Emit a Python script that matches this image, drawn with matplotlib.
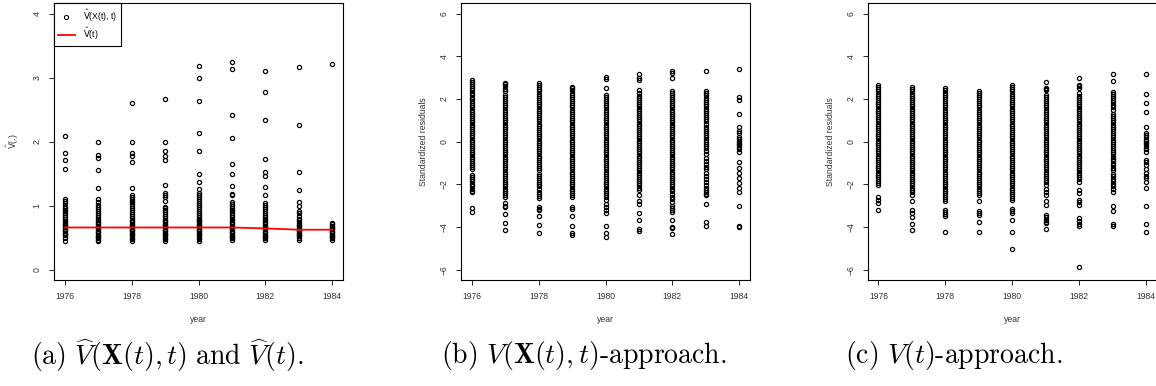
import matplotlib
matplotlib.use("Agg")
import matplotlib.pyplot as plt
from matplotlib.lines import Line2D
from matplotlib.font_manager import FontProperties

# ---------------- data ----------------
years = [1976, 1977, 1978, 1979, 1980, 1981, 1982, 1983, 1984]
year_ticks = [1976, 1978, 1980, 1982, 1984]

# estimated variance per observation, V^(X(t), t)
vhat_x = {
    1976: [2.09, 1.83, 1.71, 1.57, 1.10, 1.07, 1.04, 1.00, 0.97, 0.94, 0.91, 0.88, 0.85, 0.82, 0.79, 0.76,
           0.74, 0.72, 0.70, 0.68, 0.66, 0.64, 0.62, 0.60, 0.58, 0.56, 0.54, 0.50, 0.45],
    1977: [1.99, 1.79, 1.74, 1.55, 1.27, 1.11, 1.05, 1.01, 0.98, 0.95, 0.92, 0.89, 0.86, 0.83, 0.80, 0.77,
           0.75, 0.73, 0.71, 0.69, 0.67, 0.65, 0.63, 0.61, 0.59, 0.57, 0.55, 0.53, 0.51, 0.49, 0.47, 0.45],
    1978: [2.60, 2.00, 1.82, 1.77, 1.68, 1.28, 1.16, 1.14, 1.11, 1.08, 1.05, 1.02, 0.99, 0.96, 0.93, 0.90,
           0.87, 0.84, 0.81, 0.78, 0.76, 0.74, 0.72, 0.70, 0.68, 0.66, 0.64, 0.62, 0.60, 0.58, 0.56, 0.54,
           0.52, 0.50, 0.48, 0.45],
    1979: [2.67, 1.99, 1.86, 1.77, 1.71, 1.32, 1.20, 1.17, 1.14, 1.08, 0.98, 0.96, 0.93, 0.90, 0.87, 0.84,
           0.81, 0.78, 0.76, 0.74, 0.72, 0.70, 0.68, 0.66, 0.64, 0.62, 0.60, 0.58, 0.56, 0.54, 0.52, 0.50,
           0.48, 0.45],
    1980: [3.18, 3.00, 2.64, 2.14, 1.85, 1.50, 1.37, 1.26, 1.20, 1.17, 1.14, 1.10, 1.07, 1.04, 1.01, 0.98,
           0.95, 0.92, 0.89, 0.86, 0.83, 0.80, 0.78, 0.76, 0.74, 0.72, 0.70, 0.68, 0.66, 0.64, 0.62, 0.60,
           0.58, 0.56, 0.54, 0.52, 0.50, 0.48, 0.45],
    1981: [3.25, 3.13, 2.42, 2.06, 1.65, 1.50, 1.30, 1.18, 1.16, 1.06, 1.03, 1.00, 0.97, 0.94, 0.91, 0.88,
           0.85, 0.82, 0.79, 0.77, 0.75, 0.73, 0.71, 0.69, 0.67, 0.65, 0.63, 0.61, 0.59, 0.57, 0.55, 0.53,
           0.51, 0.49, 0.47],
    1982: [3.10, 2.77, 2.34, 1.73, 1.52, 1.46, 1.29, 1.16, 1.04, 1.01, 0.98, 0.95, 0.92, 0.89, 0.86, 0.83,
           0.80, 0.77, 0.75, 0.73, 0.71, 0.69, 0.67, 0.65, 0.63, 0.61, 0.59, 0.57, 0.55, 0.53, 0.51, 0.49,
           0.47],
    1983: [3.17, 2.26, 1.53, 1.25, 1.06, 0.99, 0.92, 0.88, 0.84, 0.80, 0.77, 0.74, 0.72, 0.70, 0.68, 0.66,
           0.64, 0.62, 0.60, 0.58, 0.56, 0.54, 0.52, 0.50, 0.47],
    1984: [3.22, 0.73, 0.71, 0.69, 0.67, 0.65, 0.63, 0.61, 0.59, 0.57, 0.55, 0.53, 0.51, 0.49, 0.47],
}

# estimated variance per year, V^(t)
vhat_t = [0.66, 0.66, 0.66, 0.66, 0.66, 0.66, 0.645, 0.625, 0.625]

# standardized residuals, V(X(t), t)-approach
resid_vx = {
    1976: [2.88, 2.8, 2.7, 2.6, 2.5, 2.4, 2.3, 2.2, 2.05, 2.0, 1.9, 1.8, 1.7, 1.6, 1.5, 1.4, 1.3, 1.2, 1.1,
           1.0, 0.9, 0.8, 0.7, 0.6, 0.5, 0.4, 0.3, 0.2, 0.1, 0.0, -0.1, -0.2, -0.3, -0.4, -0.5, -0.6, -0.7,
           -0.8, -0.9, -1.0, -1.1, -1.2, -1.3, -1.55, -1.65, -1.75, -1.85, -2.0, -2.1, -2.2, -2.3, -2.38,
           -3.12, -3.3],
    1977: [2.76, 2.7, 2.6, 2.45, 2.35, 2.2, 2.1, 2.0, 1.9, 1.8, 1.7, 1.6, 1.5, 1.4, 1.3, 1.2, 1.1, 1.0, 0.9,
           0.8, 0.7, 0.6, 0.5, 0.4, 0.3, 0.2, 0.1, 0.0, -0.1, -0.2, -0.3, -0.4, -0.5, -0.6, -0.7, -0.8, -0.9,
           -1.0, -1.1, -1.2, -1.3, -1.4, -1.5, -1.6, -1.7, -1.8, -1.9, -2.0, -2.1, -2.2, -2.3, -2.4, -2.5,
           -2.57, -2.88, -3.0, -3.07, -3.4, -3.82, -4.13],
    1978: [2.73, 2.65, 2.55, 2.45, 2.35, 2.25, 2.15, 2.05, 1.95, 1.85, 1.75, 1.65, 1.55, 1.45, 1.35, 1.25,
           1.15, 1.05, 0.95, 0.85, 0.75, 0.65, 0.55, 0.45, 0.35, 0.25, 0.15, 0.05, -0.05, -0.15, -0.25,
           -0.35, -0.45, -0.55, -0.65, -0.75, -0.85, -0.95, -1.05, -1.15, -1.25, -1.32, -1.5, -1.6, -1.7,
           -1.8, -1.9, -2.0, -2.1, -2.2, -2.35, -2.45, -2.55, -2.65, -3.07, -3.15, -3.22, -3.5, -3.9, -4.28],
    1979: [2.57, 2.5, 2.4, 2.3, 2.2, 2.1, 2.0, 1.9, 1.8, 1.7, 1.6, 1.5, 1.4, 1.3, 1.2, 1.1, 1.0, 0.9, 0.8,
           0.7, 0.6, 0.5, 0.4, 0.3, 0.2, 0.1, 0.0, -0.1, -0.2, -0.3, -0.4, -0.5, -0.6, -0.7, -0.8, -0.9,
           -1.0, -1.1, -1.2, -1.3, -1.4, -1.5, -1.6, -1.7, -1.8, -1.9, -2.0, -2.1, -2.2, -2.3, -2.4, -2.5,
           -2.57, -3.07, -3.16, -3.5, -3.97, -4.28, -4.36],
    1980: [3.04, 2.93, 2.5, 2.18, 2.1, 2.0, 1.9, 1.8, 1.7, 1.6, 1.5, 1.4, 1.3, 1.2, 1.1, 1.0, 0.9, 0.8, 0.7,
           0.6, 0.5, 0.4, 0.3, 0.2, 0.1, 0.0, -0.1, -0.2, -0.3, -0.4, -0.5, -0.6, -0.7, -0.8, -0.9, -1.0,
           -1.1, -1.2, -1.3, -1.4, -1.5, -1.6, -1.7, -1.8, -1.9, -2.0, -2.1, -2.2, -2.3, -2.4, -2.5, -2.6,
           -2.73, -2.9, -3.05, -3.2, -3.35, -3.97, -4.28, -4.47],
    1981: [3.16, 3.0, 2.88, 2.41, 2.26, 2.15, 2.05, 1.95, 1.85, 1.75, 1.65, 1.55, 1.45, 1.35, 1.25, 1.15,
           1.05, 0.95, 0.85, 0.75, 0.65, 0.55, 0.45, 0.35, 0.25, 0.15, 0.05, -0.05, -0.15, -0.25, -0.35,
           -0.45, -0.55, -0.65, -0.75, -0.85, -0.95, -1.05, -1.15, -1.25, -1.35, -1.45, -1.55, -1.65, -1.75,
           -1.85, -1.95, -2.05, -2.15, -2.26, -2.52, -2.8, -2.9, -3.35, -3.66, -4.1, -4.2],
    1982: [3.32, 3.2, 2.96, 2.38, 2.3, 2.2, 2.1, 2.0, 1.9, 1.8, 1.7, 1.6, 1.5, 1.4, 1.3, 1.2, 1.1, 1.0, 0.9,
           0.8, 0.7, 0.6, 0.5, 0.4, 0.3, 0.2, 0.1, 0.0, -0.1, -0.2, -0.3, -0.4, -0.5, -0.6, -0.7, -0.8, -0.9,
           -1.0, -1.1, -1.2, -1.3, -1.4, -1.5, -1.6, -1.7, -1.8, -1.9, -2.0, -2.1, -2.2, -2.3, -2.45, -2.6,
           -2.7, -2.85, -3.0, -3.1, -3.2, -3.3, -3.66, -4.0, -4.05, -4.33],
    1983: [3.32, 2.38, 2.3, 2.18, 2.05, 1.95, 1.85, 1.75, 1.65, 1.55, 1.45, 1.35, 1.25, 1.15, 1.05, 0.95,
           0.85, 0.7, 0.6, 0.5, 0.4, 0.3, 0.2, 0.1, 0.0, -0.1, -0.2, -0.3, -0.45, -0.6, -0.75, -0.9, -1.05,
           -1.2, -1.3, -1.45, -1.6, -1.75, -1.9, -2.05, -2.15, -2.25, -2.34, -2.45, -2.5, -2.9, -3.78, -3.94],
    1984: [3.4, 2.1, 1.95, 1.29, 0.7, 0.5, 0.39, 0.23, 0.12, 0.05, -0.02, -0.1, -0.18, -0.27, -0.35, -0.47,
           -0.93, -1.25, -1.48, -1.71, -1.95, -2.18, -2.38, -3.0, -3.97, -4.02],
}

# standardized residuals, V(t)-approach
resid_vt = {
    1976: [2.65, 2.55, 2.45, 2.35, 2.25, 2.15, 2.05, 1.95, 1.85, 1.75, 1.65, 1.55, 1.45, 1.35, 1.25, 1.15,
           1.05, 0.95, 0.85, 0.75, 0.65, 0.55, 0.45, 0.35, 0.25, 0.15, 0.05, -0.05, -0.15, -0.25, -0.35,
           -0.45, -0.55, -0.65, -0.75, -0.85, -0.95, -1.05, -1.15, -1.25, -1.35, -1.45, -1.55, -1.65, -1.75,
           -1.85, -1.95, -2.02, -2.57, -2.73, -2.88, -3.22],
    1977: [2.54, 2.45, 2.35, 2.25, 2.15, 2.05, 1.95, 1.85, 1.75, 1.65, 1.55, 1.45, 1.35, 1.25, 1.15, 1.05,
           0.95, 0.85, 0.75, 0.65, 0.55, 0.45, 0.35, 0.25, 0.15, 0.05, -0.05, -0.15, -0.25, -0.35, -0.45,
           -0.55, -0.65, -0.75, -0.85, -0.95, -1.05, -1.15, -1.25, -1.35, -1.45, -1.55, -1.65, -1.75, -1.85,
           -1.95, -2.05, -2.15, -2.25, -2.35, -2.49, -2.77, -3.22, -3.35, -3.54, -3.85, -4.13],
    1978: [2.52, 2.4, 2.3, 2.2, 2.1, 2.0, 1.9, 1.8, 1.7, 1.6, 1.5, 1.4, 1.3, 1.2, 1.1, 1.0, 0.9, 0.8, 0.7,
           0.6, 0.5, 0.4, 0.3, 0.2, 0.1, 0.0, -0.1, -0.2, -0.3, -0.4, -0.5, -0.6, -0.7, -0.8, -0.9, -1.0,
           -1.1, -1.2, -1.3, -1.4, -1.5, -1.6, -1.7, -1.8, -1.9, -2.0, -2.1, -2.2, -2.3, -2.4, -2.5, -2.6,
           -2.7, -2.8, -3.22, -3.3, -3.38, -3.47, -4.24],
    1979: [2.37, 2.3, 2.2, 2.1, 2.0, 1.9, 1.8, 1.7, 1.6, 1.5, 1.4, 1.3, 1.2, 1.1, 1.0, 0.9, 0.8, 0.7, 0.6,
           0.5, 0.4, 0.3, 0.2, 0.1, 0.0, -0.1, -0.2, -0.3, -0.4, -0.5, -0.6, -0.7, -0.8, -0.9, -1.0, -1.1,
           -1.2, -1.3, -1.4, -1.5, -1.6, -1.7, -1.8, -1.9, -2.0, -2.1, -2.2, -2.3, -2.4, -2.49, -2.8, -3.27,
           -3.35, -3.43, -3.74, -4.25],
    1980: [2.65, 2.55, 2.45, 2.35, 2.25, 2.15, 2.05, 1.95, 1.85, 1.75, 1.65, 1.55, 1.45, 1.35, 1.25, 1.15,
           1.05, 0.95, 0.85, 0.75, 0.65, 0.55, 0.45, 0.35, 0.25, 0.15, 0.05, -0.05, -0.15, -0.25, -0.35,
           -0.45, -0.55, -0.65, -0.75, -0.85, -0.95, -1.05, -1.15, -1.25, -1.35, -1.45, -1.55, -1.65, -1.75,
           -1.85, -1.95, -2.05, -2.15, -2.25, -2.35, -2.45, -2.55, -2.65, -2.73, -3.16, -3.25, -3.35, -3.66,
           -4.24, -5.02],
    1981: [2.8, 2.5, 2.45, 2.41, 2.18, 2.1, 2.0, 1.9, 1.8, 1.7, 1.6, 1.5, 1.4, 1.3, 1.2, 1.1, 1.0, 0.9, 0.8,
           0.7, 0.6, 0.5, 0.4, 0.3, 0.2, 0.1, 0.0, -0.1, -0.2, -0.3, -0.4, -0.5, -0.6, -0.7, -0.8, -0.9,
           -1.0, -1.1, -1.2, -1.3, -1.4, -1.5, -1.6, -1.7, -1.8, -1.9, -2.02, -2.2, -2.34, -2.49, -2.77,
           -2.96, -3.43, -3.55, -3.65, -3.75, -3.82, -4.1],
    1982: [2.99, 2.65, 2.6, 2.5, 2.26, 2.15, 2.05, 1.95, 1.85, 1.75, 1.65, 1.55, 1.45, 1.35, 1.25, 1.15,
           1.05, 0.95, 0.85, 0.75, 0.65, 0.55, 0.45, 0.35, 0.25, 0.15, 0.05, -0.05, -0.15, -0.25, -0.35,
           -0.45, -0.55, -0.65, -0.75, -0.85, -0.95, -1.05, -1.15, -1.25, -1.35, -1.45, -1.55, -1.65, -1.75,
           -1.87, -2.26, -2.41, -2.73, -2.85, -2.96, -3.58, -3.7, -3.85, -3.97, -5.87],
    1983: [3.16, 2.84, 2.34, 2.25, 2.15, 2.05, 1.95, 1.85, 1.71, 1.6, 1.48, 1.3, 1.2, 1.1, 1.0, 0.9, 0.8,
           0.7, 0.6, 0.5, 0.4, 0.3, 0.2, 0.1, 0.0, -0.1, -0.2, -0.3, -0.4, -0.5, -0.6, -0.7, -0.8, -0.86,
           -1.0, -1.1, -1.25, -1.35, -1.5, -1.6, -1.75, -1.85, -2.0, -2.1, -2.2, -2.34, -3.0, -3.27, -3.85,
           -3.94],
    1984: [3.19, 2.23, 1.79, 1.37, 0.7, 0.42, 0.32, 0.23, 0.1, 0.02, -0.05, -0.12, -0.2, -0.28, -0.35,
           -0.47, -0.85, -0.93, -1.09, -1.3, -1.48, -1.6, -1.72, -1.87, -2.15, -3.0, -3.86, -4.24],
}

captions = [
    r"$\mathrm{(a)}\ \widehat{V}(\mathbf{X}(t),t)\ \mathrm{and}\ \widehat{V}(t).$",
    r"$\mathrm{(b)}\ V(\mathbf{X}(t),t)\mathrm{\text{-}approach.}$",
    r"$\mathrm{(c)}\ V(t)\mathrm{\text{-}approach.}$",
]

# ---------------- figure ----------------
W, H = 1156, 386
fig = plt.figure(figsize=(W / 100, H / 100), dpi=100)
plt.rcParams["font.family"] = ["Liberation Sans", "DejaVu Sans"]

TICK_FS = 6.2
MS, MEW = 3.0, 0.9
ax_top, ax_bot = 3.3, 280.0
lefts = [54.0, 461.0, 867.7]
width = 289.0


def make_axes(left_px):
    return fig.add_axes([left_px / W, (H - ax_bot) / H, width / W, (ax_bot - ax_top) / H])


def style(ax, ylim, yticks, ylabel, lab_x):
    ax.set_xlim(1975.68, 1984.32)
    ax.set_ylim(*ylim)
    ax.set_xticks(year_ticks)
    ax.set_yticks(yticks)
    ax.set_yticklabels([str(t).replace("-", "\u2212") for t in yticks], rotation=90, va="center")
    ax.tick_params(direction="out", length=3.4, width=0.6, labelsize=TICK_FS, pad=5.5,
                   colors="black", labelcolor="#333333")
    for s in ax.spines.values():
        s.set_linewidth(0.8)
    ax.set_xlabel("year", fontsize=TICK_FS, color="#333333")
    ax.xaxis.set_label_coords(0.5, -0.128)
    ax.set_ylabel(ylabel, fontsize=TICK_FS, color="#333333")
    ax.yaxis.label.set_va("center")
    ax.yaxis.set_label_coords(lab_x, 0.5)


def scatter_years(ax, groups):
    for yr in years:
        vals = groups[yr]
        ax.plot([yr] * len(vals), vals, ls="none", marker="o", ms=MS, mew=MEW,
                mfc="none", mec="black")


# panel (a)
ax_a = make_axes(lefts[0])
scatter_years(ax_a, vhat_x)
ax_a.plot(years, vhat_t, color="red", lw=1.3)
style(ax_a, (-0.16, 4.16), [0, 1, 2, 3, 4], r"$\hat{\mathrm{V}}$(.)", -0.142)
ax_a.yaxis.label.set_math_fontfamily("dejavusans")

leg_handles = [
    Line2D([], [], ls="none", marker="o", ms=MS, mew=0.75, mfc="none", mec="black"),
    Line2D([], [], color="red", lw=1.3),
]
leg_labels = [r"$\hat{\mathrm{V}}$(X(t), t)", r"$\hat{\mathrm{V}}$(t)"]
leg = ax_a.legend(leg_handles, leg_labels, loc="upper left", bbox_to_anchor=(0, 1),
                  borderaxespad=0, fancybox=False, framealpha=1, edgecolor="black",
                  prop=FontProperties(family="Liberation Sans", size=TICK_FS, math_fontfamily="dejavusans"),
                  handlelength=2.0, handletextpad=0.9, borderpad=0.45, labelspacing=0.2)
leg.get_frame().set_linewidth(0.8)

# panel (b)
ax_b = make_axes(lefts[1])
scatter_years(ax_b, resid_vx)
style(ax_b, (-6.48, 6.48), [-6, -4, -2, 0, 2, 4, 6], "Standardized residuals", -0.13)

# panel (c)
ax_c = make_axes(lefts[2])
scatter_years(ax_c, resid_vt)
style(ax_c, (-6.48, 6.48), [-6, -4, -2, 0, 2, 4, 6], "Standardized residuals", -0.13)

# sub-captions
cap_x = [31, 441, 845]
for x, cap in zip(cap_x, captions):
    fig.text(x / W, (H - 356) / H, cap, ha="left", va="center", fontsize=20,
             math_fontfamily="cm", color="black")

fig.savefig("out.png", dpi=100, facecolor="white")
